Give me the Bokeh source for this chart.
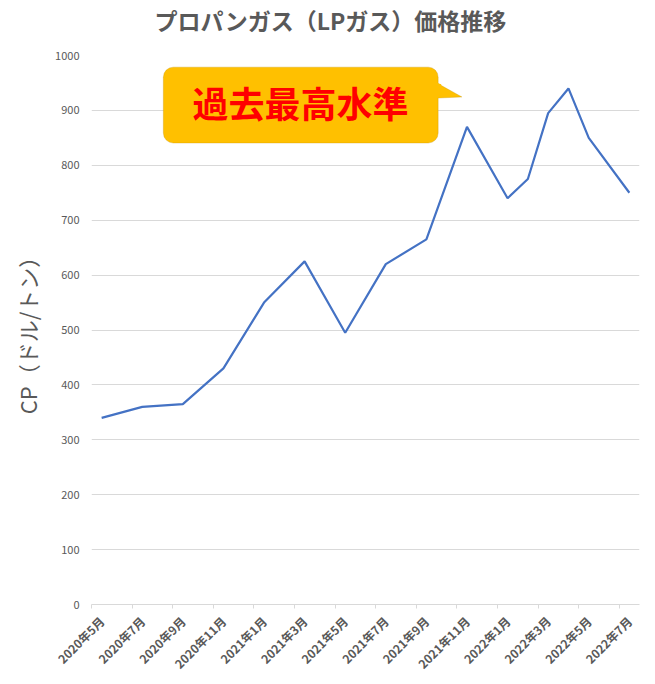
import math
from bokeh.plotting import figure
from bokeh.models import (FixedTicker, Range1d, ColumnDataSource, BoxAnnotation,
                          PolyAnnotation, Label, Title)
from bokeh.embed import file_html
from bokeh.resources import INLINE

# ---- data ----
data_months = ["2020年5月", "2020年7月", "2020年9月", "2020年11月",
               "2021年1月", "2021年3月", "2021年5月", "2021年7月",
               "2021年9月", "2021年11月", "2022年1月", "2022年2月",
               "2022年3月", "2022年4月", "2022年5月", "2022年7月"]
cp_values = [340, 360, 365, 430, 550, 625, 495, 620,
             665, 870, 740, 775, 895, 940, 850, 750]
tick_labels = ["2020年5月", "2020年7月", "2020年9月", "2020年11月",
               "2021年1月", "2021年3月", "2021年5月", "2021年7月",
               "2021年9月", "2021年11月", "2022年1月", "2022年3月",
               "2022年5月", "2022年7月"]
y_ticks = [0, 100, 200, 300, 400, 500, 600, 700, 800, 900, 1000]

title_text = "プロパンガス（LPガス）価格推移"
y_label = "CP（ドル/トン）"
callout_text = "過去最高水準"


def month_index(label):
    y, m = label.replace("月", "").split("年")
    return (int(y) - 2020) * 12 + int(m) - 5


xs = [month_index(m) for m in data_months]
tick_pos = [month_index(m) for m in tick_labels]
n_months = month_index(data_months[-1]) + 1

FONT = "Noto Sans CJK JP"
GRAY = "#595959"

p = figure(width=655, height=680, output_backend="svg", toolbar_location=None,
           x_range=Range1d(-0.5, n_months - 0.5), y_range=Range1d(0, 1000),
           min_border_left=91, min_border_right=16, min_border_top=55,
           min_border_bottom=73)
p.outline_line_color = None
p.background_fill_color = "white"

# spacer between the frame and the title
p.add_layout(Title(text=" ", standoff=0, text_font=FONT,
                   text_font_size="12px"), "above")
p.title = Title(text=title_text, align="left", offset=63, standoff=0,
                text_font=FONT, text_font_size="23px", text_font_style="bold",
                text_color=GRAY)

src = ColumnDataSource(dict(x=xs, y=cp_values))
p.line("x", "y", source=src, line_color="#4472C4", line_width=2.2)

# y axis
p.yaxis.ticker = FixedTicker(ticks=y_ticks)
p.yaxis.axis_line_color = None
p.yaxis.major_tick_line_color = None
p.yaxis.minor_tick_line_color = None
p.yaxis.major_tick_out = 0
p.yaxis.major_label_text_font = FONT
p.yaxis.major_label_text_font_size = "11px"
p.yaxis.major_label_text_color = GRAY
p.yaxis.major_label_standoff = 12
p.yaxis.axis_label = y_label
p.yaxis.axis_label_text_font = FONT
p.yaxis.axis_label_text_font_size = "22px"
p.yaxis.axis_label_text_font_style = "normal"
p.yaxis.axis_label_text_color = GRAY
p.yaxis.axis_label_standoff = 9
p.ygrid.grid_line_color = "#D9D9D9"
p.ygrid.grid_line_width = 1
p.ygrid.ticker = FixedTicker(ticks=y_ticks)

# x axis
p.xgrid.grid_line_color = None
p.xaxis.ticker = FixedTicker(ticks=tick_pos,
                             minor_ticks=[t - 0.5 for t in tick_pos])
p.xaxis.major_label_overrides = {t: l for t, l in zip(tick_pos, tick_labels)}
p.xaxis.axis_line_color = "#D9D9D9"
p.xaxis.major_tick_line_color = None
p.xaxis.major_tick_out = 0
p.xaxis.major_tick_in = 0
p.xaxis.minor_tick_line_color = "#D9D9D9"
p.xaxis.minor_tick_out = 4
p.xaxis.minor_tick_in = 0
p.xaxis.major_label_orientation = math.pi / 4
p.xaxis.major_label_text_font = FONT
p.xaxis.major_label_text_font_size = "12px"
p.xaxis.major_label_text_font_style = "bold"
p.xaxis.major_label_text_color = GRAY
p.xaxis.major_label_standoff = 10

# callout (speech bubble)
box_l, box_r, box_b, box_t = 3.04, 16.58, 840.6, 978.8
tip_x, tip_y = 17.75, 924.5
base_top, base_bot = 954.7, 922
FILL = "#FFC000"
EDGE = "#BF9000"

pointer = PolyAnnotation(xs=[box_r - 0.3, tip_x, box_r - 0.3],
                         ys=[base_top, tip_y, base_bot],
                         fill_color=FILL, fill_alpha=1,
                         line_color=EDGE, line_width=1)
p.add_layout(pointer)
box = BoxAnnotation(left=box_l, right=box_r, bottom=box_b, top=box_t,
                    fill_color=FILL, fill_alpha=1, line_color=EDGE,
                    line_width=1, border_radius=10)
p.add_layout(box)
cover = PolyAnnotation(xs=[box_r - 0.2, box_r + 0.15, box_r + 0.15, box_r - 0.2],
                       ys=[base_top - 3, base_top - 7, base_bot + 1, base_bot + 1],
                       fill_color=FILL, fill_alpha=1, line_color=None)
p.add_layout(cover)
p.add_layout(Label(x=9.8, y=915, text=callout_text, text_align="center",
                   text_baseline="middle", text_font=FONT,
                   text_font_size="36px", text_font_style="bold",
                   text_color="#FF0000"))

open("out.html", "w").write(file_html(p, INLINE))
